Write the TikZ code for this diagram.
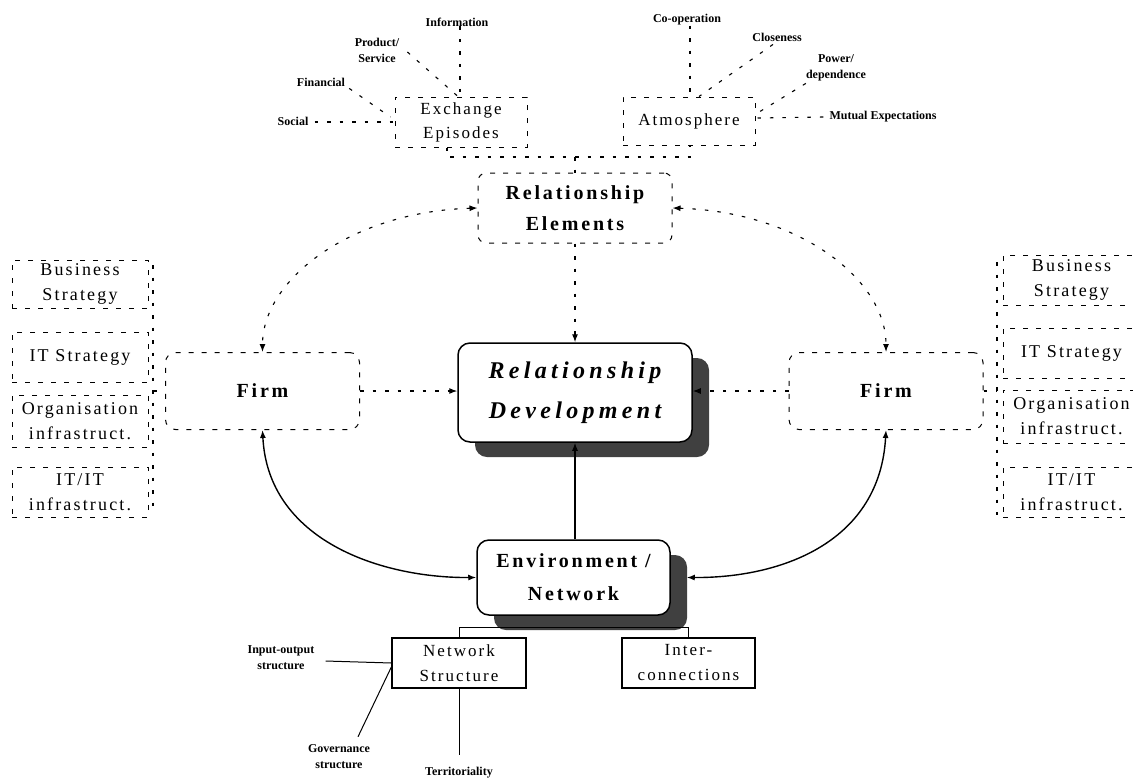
\documentclass[tikz,border=0pt]{standalone}
\usepackage{fontspec}
\setmainfont{Liberation Serif}
\newfontfamily\boxfont[LetterSpace=12]{Liberation Serif}
\newfontfamily\headfont[LetterSpace=14]{Liberation Serif}
\newfontfamily\devfont[LetterSpace=18]{Liberation Serif}
\usetikzlibrary{arrows.meta,calc,shadows}
\begin{document}
\begin{tikzpicture}[x=1pt,y=-1pt,
  every node/.style={inner sep=0pt, align=center},
  boxdash/.style={dash pattern=on 5pt off 8pt, line width=1pt},
  linkdash/.style={dash pattern=on 3.5pt off 9pt, line width=1.1pt},
  tip/.style={-{Latex[length=8pt,width=6pt]}},
  tips/.style={{Latex[length=8pt,width=6pt]}-{Latex[length=8pt,width=6pt]}},
  topbox/.style={draw, boxdash, font=\boxfont\fontsize{17}{24}\selectfont},
  sidebox/.style={draw, boxdash, minimum width=136pt, font=\boxfont\fontsize{18}{25}\selectfont},
  firmbox/.style={draw, boxdash, rounded corners=10pt, minimum width=194pt, minimum height=77pt,
    font=\headfont\bfseries\fontsize{20}{26}\selectfont},
  solidbox/.style={draw, line width=1.5pt, rounded corners=12pt, fill=white,
    drop shadow={shadow xshift=17pt, shadow yshift=-15pt, fill=black!75, opacity=1}},
  netbox/.style={draw, line width=1.3pt, minimum height=50pt, font=\boxfont\fontsize{17}{25}\selectfont},
  small/.style={font=\bfseries\fontsize{12}{16}\selectfont}
]
\useasboundingbox (0,0) rectangle (1133,780);
\clip (0,0) rectangle (1133,780);

% ---------- relationship elements and their facets ----------
\node[topbox, minimum width=132pt, minimum height=50pt] (ee) at (461,122) {Exchange\\Episodes};
\node[topbox, minimum width=132pt, minimum height=48pt] (atm) at (689,121) {Atmosphere};
\node[draw, boxdash, rounded corners=8pt, minimum width=194pt, minimum height=70pt,
  font=\headfont\bfseries\fontsize{20}{31}\selectfont] (re) at (575,208) {Relationship\\Elements};

\node[small] (info) at (457,22) {Information};
\node[small] (prod) at (377,50) {Product/\\Service};
\node[small] (fin) at (321,82) {Financial};
\node[small] (soc) at (293,121) {Social};
\node[small] (coop) at (687,20) {Co-operation};
\node[small] (clo) at (777,37) {Closeness};
\node[small] (pow) at (836,68) {Power/\\dependence};
\node[small] (mut) at (883,117) {Mutual Expectations};

\draw[linkdash] (info.south -| 460,0) -- (ee.north -| 460,0);
\draw[linkdash] ($(prod.east)+(8,2)$) -- ($(ee.north)+(-3,0)$);
\draw[linkdash] ($(fin.south east)+(4,2)$) -- ($(ee.west)+(-4,-5)$);
\draw[linkdash] ($(soc.east)+(6,1)$) -- (ee.west);
\draw[linkdash] (coop.south -| 690,0) -- (atm.north -| 690,0);
\draw[linkdash] ($(clo.south)+(-4,3)$) -- ($(atm.north)+(10,0)$);
\draw[linkdash] ($(pow.south west)+(0,2)$) -- ($(atm.east)+(2,-8)$);
\draw[linkdash] ($(mut.west)+(-6,0)$) -- ($(atm.east)+(2,-3)$);

% dashed tree joining the two facets to the elements box
\coordinate (tl) at (447,157);
\coordinate (tr) at (690,157);
\draw[linkdash] (ee.south -| tl) -- (tl) -- (tr) -- (atm.south -| tr);
\draw[linkdash] (re.north |- tl) -- (re.north);

% ---------- central boxes ----------
\node[solidbox, minimum width=234pt, minimum height=99pt,
  font=\devfont\bfseries\itshape\fontsize{24}{40}\selectfont] (rd) at (575,392.5) {Relationship\\Development};
\node[solidbox, minimum width=193pt, minimum height=75pt,
  font=\headfont\bfseries\fontsize{20}{33}\selectfont] (env) at (573.5,577.5) {Environment /\\Network};

\node[firmbox] (lf) at (262.5,391) {Firm};
\node[firmbox] (rf) at (886,391) {Firm};

% ---------- firm-internal columns ----------
\node[sidebox, minimum height=48pt] (lb1) at (80,284) {Business\\Strategy};
\node[sidebox, minimum height=50pt] (lb2) at (80,357) {IT Strategy};
\node[sidebox, minimum height=52pt] (lb3) at (80,421) {Organisation\\infrastruct.};
\node[sidebox, minimum height=50pt] (lb4) at (80,492) {IT/IT\\infrastruct.};
\coordinate (lct) at (153,265);
\coordinate (lcb) at (153,512);
\draw[linkdash] (lct) -- (lcb);
\draw[linkdash] (lct |- lf.west) -- (lf.west);

\node[sidebox, minimum width=137pt, minimum height=50pt] (rb1) at (1071.5,280) {Business\\Strategy};
\node[sidebox, minimum width=137pt, minimum height=50pt] (rb2) at (1071.5,353) {IT Strategy};
\node[sidebox, minimum width=137pt, minimum height=53pt] (rb3) at (1071.5,416.5) {Organisation\\infrastruct.};
\node[sidebox, minimum width=137pt, minimum height=50pt] (rb4) at (1071.5,492) {IT/IT\\infrastruct.};
\coordinate (rct) at (997,262);
\coordinate (rcb) at (997,515);
\draw[linkdash] (rct) -- (rcb);
\draw[linkdash] (rf.east) -- (rct |- rf.east);

% ---------- connections ----------
\draw[linkdash, tips] (re.west) .. controls (350,212) and (262.5,280) .. (lf.north);
\draw[linkdash, tips] (re.east) .. controls (800,212) and (886,280) .. (rf.north);
\draw[linkdash, tip] (re.south) -- (re.south |- rd.north);
\draw[linkdash, tip] (lf.east) -- (lf.east -| rd.west);
\draw[linkdash, tip] (rf.west) -- (rf.west -| rd.east);
\draw[line width=1.3pt, tip] (rd.south |- env.north) -- (rd.south);
\draw[line width=1.4pt, tips] (lf.south) .. controls (268,540) and (380,578) .. (env.west);
\draw[line width=1.4pt, tips] (rf.south) .. controls (880,540) and (785,578) .. ($(env.east)+(16,0)$);

% ---------- network structure ----------
\node[netbox, minimum width=134pt] (ns) at (459,663) {Network\\Structure};
\node[netbox, minimum width=133pt] (ic) at (688.5,663) {Inter-\\connections};
\coordinate (nt) at (0,627);
\draw[line width=1pt] (ns.north) -- (ns.north |- nt) -- (ic.north |- nt) -- (ic.north);

\node[small] (io) at (281,658) {Input-output\\structure};
\node[small] (gov) at (339,757) {Governance\\structure};
\node[small] (terr) at (459,773) {Territoriality};
\draw[line width=1pt] ($(io.east)+(11,3)$) -- (ns.west);
\draw[line width=1pt] ($(gov.north)+(19,-8)$) -- ($(ns.west)+(0,4)$);
\draw[line width=1pt] (ns.south) -- ($(terr.north)+(0,-12)$);
\end{tikzpicture}
\end{document}
